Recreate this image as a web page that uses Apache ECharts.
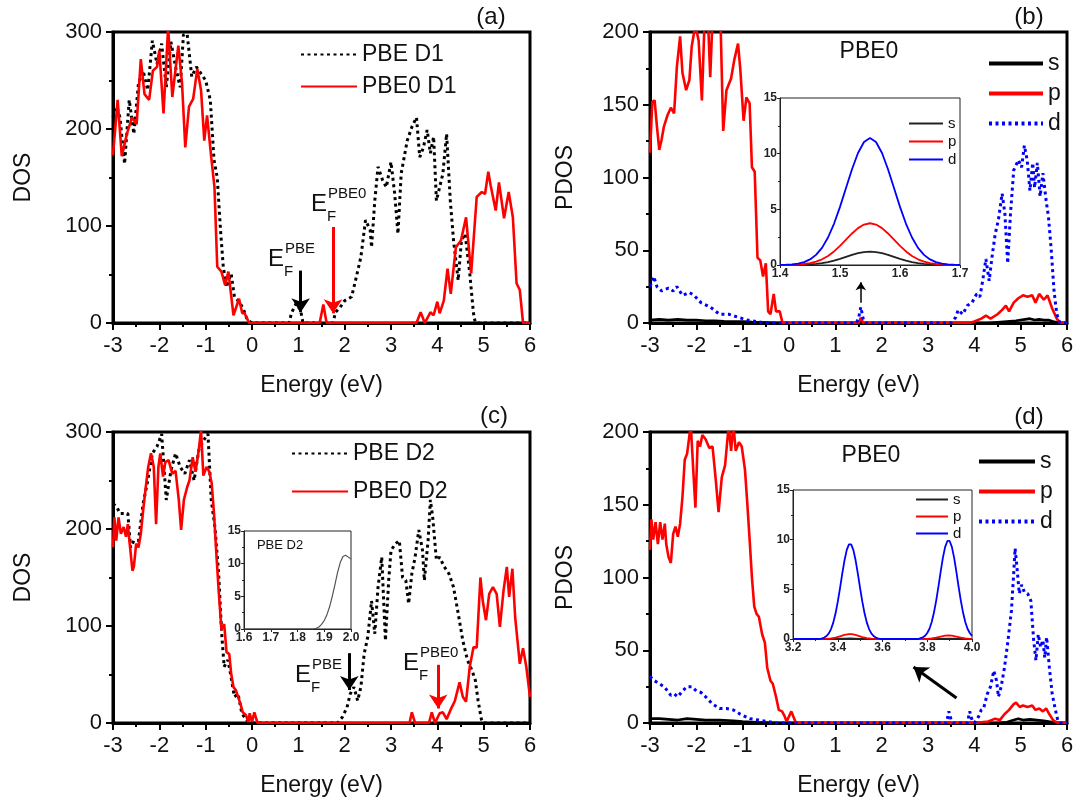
<!DOCTYPE html>
<html>
<head>
<meta charset="utf-8">
<script src="https://cdn.jsdelivr.net/npm/echarts@6/dist/echarts.min.js"></script>
<style>
html,body{margin:0;padding:0;background:#fff;}
#c{width:1081px;height:805px;}
</style>
</head>
<body>
<div id="c"></div>
<script>
// ---------------- DATA ----------------
// Panel (a): total DOS, D1
const aPBE = [[-3,212],[-2.92,223],[-2.85,212],[-2.75,164],[-2.65,230],[-2.55,195],[-2.45,247],[-2.35,260],[-2.25,240],[-2.15,291],[-2.05,267],[-1.95,288],[-1.85,243],[-1.75,290],[-1.65,264],[-1.55,243],[-1.48,297],[-1.4,298],[-1.3,254],[-1.2,264],[-1.1,257],[-1.0,250],[-0.9,230],[-0.82,168],[-0.75,150],[-0.68,96],[-0.62,58],[-0.55,37],[-0.45,51],[-0.38,27],[-0.3,23],[-0.2,16],[-0.1,3],[0,0],[0.8,0],[0.85,10],[0.95,20],[1.05,13],[1.1,0],[1.75,0],[1.8,11],[1.9,16],[2,23],[2.15,27],[2.25,47],[2.35,68],[2.45,106],[2.55,96],[2.58,78],[2.65,126],[2.72,161],[2.82,147],[2.9,140],[3,166],[3.08,133],[3.15,92],[3.22,154],[3.35,188],[3.45,202],[3.55,212],[3.62,171],[3.7,181],[3.78,199],[3.85,175],[3.92,192],[3.98,126],[4.05,140],[4.12,154],[4.2,195],[4.28,126],[4.35,85],[4.45,44],[4.52,85],[4.6,92],[4.7,51],[4.78,10],[4.82,0],[6,0]];
const aPBE0 = [[-3,173],[-2.9,230],[-2.81,172],[-2.7,195],[-2.59,212],[-2.49,205],[-2.4,272],[-2.32,236],[-2.22,230],[-2.14,260],[-2.05,264],[-2,281],[-1.91,216],[-1.81,305],[-1.72,233],[-1.59,286],[-1.51,247],[-1.44,181],[-1.36,223],[-1.27,231],[-1.18,262],[-1.1,240],[-1.03,188],[-0.97,214],[-0.88,171],[-0.81,140],[-0.75,58],[-0.66,53],[-0.58,39],[-0.51,53],[-0.4,8],[-0.28,25],[-0.21,10],[-0.16,10],[-0.06,0],[1.46,0],[1.54,19],[1.61,0],[3.55,0],[3.64,11],[3.73,0],[3.85,11],[3.92,8],[4.0,22],[4.05,10],[4.14,23],[4.22,56],[4.29,30],[4.4,78],[4.51,85],[4.62,109],[4.73,51],[4.85,130],[4.96,135],[5.03,133],[5.1,156],[5.15,142],[5.26,116],[5.33,145],[5.44,108],[5.54,135],[5.63,109],[5.71,41],[5.78,34],[5.85,0],[6,0]];

// Panel (b): PDOS, PBE0 D1
const bS = [[-3,2],[-2.8,2.5],[-2.6,2],[-2.4,2.5],[-2.2,2],[-2,2],[-1.8,1.5],[-1.6,1.5],[-1.4,1.2],[-1.2,1],[-1,1],[-0.8,0.6],[-0.6,0.4],[-0.4,0.2],[-0.2,0],[1.5,0],[1.55,1.2],[1.6,0],[4.3,0],[4.5,0.5],[4.7,1],[4.9,1.5],[5.0,2],[5.1,2.5],[5.2,3],[5.3,2],[5.4,2.5],[5.5,2],[5.6,2],[5.7,1],[5.8,0.3],[5.9,0],[6,0]];
const bP = [[-3,117],[-2.95,152],[-2.9,153],[-2.85,135],[-2.8,119],[-2.75,126],[-2.7,135],[-2.62,143],[-2.55,148],[-2.48,144],[-2.42,176],[-2.35,197],[-2.3,172],[-2.22,160],[-2.15,167],[-2.1,190],[-2.02,205],[-1.95,194],[-1.88,153],[-1.82,210],[-1.75,210],[-1.7,169],[-1.65,210],[-1.55,210],[-1.48,210],[-1.42,132],[-1.35,160],[-1.25,168],[-1.18,181],[-1.1,192],[-1.05,174],[-0.98,139],[-0.92,155],[-0.85,151],[-0.8,107],[-0.74,104],[-0.68,45],[-0.62,43],[-0.56,32],[-0.5,41],[-0.45,8],[-0.4,6],[-0.33,20],[-0.28,8],[-0.2,8],[-0.14,0],[1.5,0],[1.55,3.5],[1.6,0],[3.9,0],[4.0,1],[4.15,3],[4.25,5],[4.35,3],[4.5,6],[4.6,9],[4.68,12],[4.75,8],[4.85,14],[4.95,17],[5.05,19],[5.15,18],[5.25,19],[5.32,14],[5.4,20],[5.5,16],[5.58,19],[5.68,10],[5.78,3],[5.85,0],[6,0]];
const bD = [[-3,25],[-2.92,32],[-2.85,25],[-2.75,22],[-2.6,24],[-2.5,22],[-2.42,25],[-2.3,19],[-2.15,21],[-2.05,19],[-1.9,14],[-1.7,11],[-1.5,6],[-1.3,6],[-1.1,4],[-0.9,2],[-0.7,1],[-0.5,0],[1.45,0],[1.5,3],[1.55,11],[1.6,3],[1.65,0],[3.5,0],[3.6,4],[3.65,9],[3.75,6],[3.85,12],[3.95,14],[4.05,20],[4.12,18],[4.18,29],[4.25,44],[4.32,29],[4.38,45],[4.45,61],[4.52,71],[4.6,89],[4.66,75],[4.72,41],[4.78,75],[4.85,105],[4.95,112],[5.02,107],[5.08,122],[5.14,112],[5.2,91],[5.26,110],[5.3,93],[5.36,110],[5.42,87],[5.48,103],[5.55,84],[5.6,73],[5.66,50],[5.72,22],[5.78,6],[5.85,0],[6,0]];

// Panel (c): total DOS, D2
const cPBE = [[-3,226],[-2.92,223],[-2.85,216],[-2.75,216],[-2.68,216],[-2.62,181],[-2.55,188],[-2.45,188],[-2.35,226],[-2.25,250],[-2.15,278],[-2.05,285],[-1.95,298],[-1.85,230],[-1.75,260],[-1.65,278],[-1.55,264],[-1.45,257],[-1.35,271],[-1.25,250],[-1.15,281],[-1.05,291],[-0.95,298],[-0.88,230],[-0.8,202],[-0.72,154],[-0.65,89],[-0.6,58],[-0.52,65],[-0.45,47],[-0.38,27],[-0.3,30],[-0.22,10],[-0.12,3],[0,0],[1.85,0],[1.95,6],[2.05,16],[2.12,30],[2.2,37],[2.28,23],[2.35,37],[2.42,71],[2.5,89],[2.58,126],[2.65,92],[2.72,140],[2.8,171],[2.88,85],[2.95,147],[3,178],[3.1,185],[3.18,188],[3.25,150],[3.32,147],[3.38,123],[3.45,154],[3.52,171],[3.6,199],[3.68,178],[3.72,147],[3.8,188],[3.85,230],[3.9,212],[3.98,168],[4.05,171],[4.15,161],[4.25,154],[4.35,140],[4.45,113],[4.55,85],[4.65,65],[4.75,54],[4.82,44],[4.88,23],[4.95,4],[5,0],[6,0]];
const cPBE0 = [[-3,181],[-2.97,212],[-2.93,188],[-2.88,212],[-2.83,195],[-2.77,202],[-2.72,192],[-2.68,205],[-2.64,185],[-2.58,157],[-2.55,161],[-2.5,185],[-2.45,181],[-2.4,195],[-2.35,219],[-2.3,240],[-2.24,264],[-2.18,278],[-2.12,264],[-2.07,205],[-2.02,264],[-1.98,278],[-1.92,254],[-1.87,269],[-1.8,271],[-1.72,257],[-1.65,260],[-1.58,230],[-1.53,199],[-1.47,230],[-1.4,243],[-1.35,250],[-1.28,274],[-1.22,259],[-1.15,281],[-1.1,302],[-1.05,255],[-0.98,264],[-0.92,259],[-0.87,247],[-0.82,216],[-0.77,175],[-0.72,137],[-0.66,96],[-0.6,102],[-0.55,73],[-0.49,71],[-0.45,51],[-0.4,37],[-0.35,34],[-0.3,27],[-0.25,20],[-0.2,11],[-0.13,8],[-0.08,1],[-0.05,10],[0,1],[0.05,11],[0.12,0],[3.4,0],[3.45,11],[3.52,0],[3.82,0],[3.88,11],[3.95,0],[4.05,10],[4.12,11],[4.2,4],[4.28,13],[4.38,23],[4.48,42],[4.55,27],[4.62,22],[4.7,58],[4.78,78],[4.85,78],[4.93,150],[4.98,126],[5.05,106],[5.12,133],[5.2,140],[5.28,133],[5.35,99],[5.43,137],[5.5,161],[5.55,130],[5.62,159],[5.68,109],[5.73,85],[5.78,61],[5.85,77],[5.92,58],[6,27]];

// Panel (d): PDOS, PBE0 D2
const dS = [[-3,3],[-2.8,3],[-2.6,2.5],[-2.4,2],[-2.2,3],[-2,2.5],[-1.8,2],[-1.5,2],[-1.2,1.5],[-1,1],[-0.7,0.5],[-0.4,0.2],[-0.2,0],[4.5,0],[4.7,0.5],[4.85,2],[4.95,3],[5.05,2],[5.2,2.5],[5.35,2],[5.5,1.5],[5.7,0.5],[5.85,0],[6,0]];
const dP = [[-3,119],[-2.97,140],[-2.93,126],[-2.88,138],[-2.83,123],[-2.78,138],[-2.73,126],[-2.68,137],[-2.65,123],[-2.6,114],[-2.55,110],[-2.5,130],[-2.45,135],[-2.4,128],[-2.35,137],[-2.3,155],[-2.25,181],[-2.2,185],[-2.12,205],[-2.07,176],[-2.02,148],[-1.97,194],[-1.92,190],[-1.87,198],[-1.8,195],[-1.72,189],[-1.65,190],[-1.58,167],[-1.52,145],[-1.45,169],[-1.38,177],[-1.3,205],[-1.25,187],[-1.2,205],[-1.15,187],[-1.08,193],[-1.02,190],[-0.95,174],[-0.9,151],[-0.85,126],[-0.8,100],[-0.75,80],[-0.7,75],[-0.65,73],[-0.58,61],[-0.52,55],[-0.47,38],[-0.4,29],[-0.35,27],[-0.28,18],[-0.22,9],[-0.15,8],[-0.1,5],[-0.05,1],[0.05,8],[0.1,4],[0.15,0],[3.4,0],[3.45,0.5],[3.5,0],[4.0,0],[4.3,1],[4.45,3],[4.55,2],[4.65,6],[4.75,9],[4.85,13],[4.9,14],[4.98,11],[5.05,12],[5.15,11],[5.25,12],[5.32,9],[5.4,10],[5.48,8],[5.55,10],[5.62,6],[5.7,2],[5.8,0],[6,0]];
const dD = [[-3,32],[-2.9,29],[-2.8,27],[-2.7,25],[-2.62,22],[-2.55,19],[-2.48,20],[-2.4,18],[-2.3,22],[-2.2,25],[-2.1,25],[-2,22],[-1.9,21],[-1.8,18],[-1.65,13],[-1.5,10],[-1.35,10],[-1.2,9],[-1.05,6],[-0.85,3],[-0.65,2],[-0.45,1],[-0.3,0],[3.4,0],[3.45,8],[3.5,2],[3.55,0],[3.85,0],[3.9,8],[3.95,2],[4.0,0],[4.05,2],[4.1,5],[4.15,9],[4.2,10],[4.28,20],[4.35,25],[4.42,36],[4.48,29],[4.52,18],[4.58,25],[4.65,38],[4.72,55],[4.8,77],[4.85,103],[4.88,120],[4.92,107],[4.97,89],[5.02,95],[5.08,90],[5.15,89],[5.22,84],[5.28,57],[5.33,43],[5.38,61],[5.43,52],[5.48,57],[5.52,45],[5.56,59],[5.62,38],[5.68,20],[5.75,9],[5.8,2],[5.85,0],[6,0]];

// Inset in (b): 1.40 .. 1.70 eV, step 0.01
const insBx = [1.40,1.41,1.42,1.43,1.44,1.45,1.46,1.47,1.48,1.49,1.50,1.51,1.52,1.53,1.54,1.55,1.56,1.57,1.58,1.59,1.60,1.61,1.62,1.63,1.64,1.65,1.66,1.67,1.68,1.69,1.70];
const insBs = [0,0,0.01,0.01,0.03,0.05,0.10,0.16,0.26,0.39,0.55,0.73,0.91,1.06,1.16,1.20,1.16,1.06,0.91,0.73,0.55,0.39,0.26,0.16,0.10,0.05,0.03,0.01,0.01,0,0];
const insBp = [0,0.01,0.02,0.04,0.09,0.17,0.30,0.51,0.81,1.22,1.72,2.28,2.83,3.31,3.63,3.75,3.63,3.31,2.83,2.28,1.72,1.22,0.81,0.51,0.30,0.17,0.09,0.04,0.02,0.01,0];
const insBd = [0.01,0.03,0.06,0.13,0.26,0.50,0.91,1.54,2.47,3.70,5.22,6.91,8.60,10.06,11.05,11.40,11.05,10.06,8.60,6.91,5.22,3.70,2.47,1.54,0.91,0.50,0.26,0.13,0.06,0.03,0.01];

// Inset in (c): PBE D2, 1.6 .. 2.0 eV
const insC = [[1.6,0],[1.86,0],[1.87,0.1],[1.88,0.3],[1.89,0.7],[1.9,1.3],[1.91,2.2],[1.92,3.4],[1.93,5.0],[1.94,6.8],[1.95,8.7],[1.96,10.2],[1.97,11.1],[1.98,11.3],[1.99,11.0],[2.0,10.7]];

// Inset in (d): 3.2 .. 4.0 eV
const insDs = [[3.2,0],[3.4,0.02],[3.455,0.05],[3.5,0.02],[3.55,0],[3.85,0],[3.895,0.04],[3.95,0],[4.0,0]];
const insDp = [[3.2,0],[3.35,0.02],[3.37,0.05],[3.39,0.13],[3.41,0.27],[3.43,0.41],[3.45,0.49],[3.46,0.5],[3.47,0.47],[3.49,0.34],[3.51,0.19],[3.53,0.09],[3.55,0.03],[3.58,0],[3.8,0],[3.82,0.05],[3.84,0.14],[3.86,0.25],[3.88,0.33],[3.895,0.35],[3.91,0.33],[3.93,0.25],[3.95,0.14],[3.97,0.06],[3.99,0.02],[4.0,0.01]];
const insDd = [[3.2,0],[3.32,0],[3.33,0.07],[3.34,0.15],[3.35,0.30],[3.36,0.57],[3.37,1.00],[3.38,1.65],[3.39,2.56],[3.40,3.73],[3.41,5.10],[3.42,6.55],[3.43,7.90],[3.44,8.95],[3.45,9.52],[3.46,9.52],[3.47,8.95],[3.48,7.90],[3.49,6.55],[3.50,5.10],[3.51,3.73],[3.52,2.56],[3.53,1.65],[3.54,1.00],[3.55,0.57],[3.56,0.30],[3.57,0.15],[3.58,0.07],[3.59,0],[3.76,0],[3.77,0.08],[3.78,0.16],[3.79,0.32],[3.80,0.60],[3.81,1.03],[3.82,1.71],[3.83,2.66],[3.84,3.87],[3.85,5.28],[3.86,6.79],[3.87,8.19],[3.88,9.27],[3.89,9.87],[3.90,9.87],[3.91,9.27],[3.92,8.19],[3.93,6.79],[3.94,5.28],[3.95,3.87],[3.96,2.66],[3.97,1.71],[3.98,1.03],[3.99,0.60],[4.00,0.32]];

// Fermi-level arrows [x, yStart, yEnd]
const arrowA_PBE = [1.05, 54, 11];
const arrowA_PBE0 = [1.75, 99, 10];
const arrowC_PBE = [2.10, 72, 34];
const arrowC_PBE0 = [4.02, 60, 15];
const arrowB = [[1.55, 14], [1.55, 28]];
const arrowD = [[3.615, 17.2], [2.687, 38.5]];

// ---------------- CHART ----------------
const FONT = "'Liberation Sans', Arial, sans-serif";
const TXT = '#111';
const RED = '#ff0000', BLUE = '#0000ff', BLACK = '#000000';
const chart = echarts.init(document.getElementById('c'), null, {renderer: 'canvas'});

const mainGrids = [
  {left: 113, top: 32, width: 417, height: 291},
  {left: 650, top: 32, width: 417, height: 291},
  {left: 113, top: 432, width: 417, height: 291},
  {left: 650, top: 432, width: 417, height: 291}
];
const insetGrids = [
  {left: 780, top: 98, width: 180, height: 167},
  {left: 244, top: 531, width: 107, height: 98},
  {left: 793, top: 490, width: 179, height: 149}
];
const grids = mainGrids.map(g => Object.assign({show: true, borderColor: '#000', borderWidth: 3, backgroundColor: 'transparent', containLabel: false}, g))
  .concat(insetGrids.map(g => Object.assign({show: true, borderColor: '#222', borderWidth: 1, backgroundColor: '#fff', containLabel: false, z: 5}, g)));

function mainX(gi) {
  return {
    gridIndex: gi, type: 'value', min: -3, max: 6, interval: 1,
    axisLine: {show: true, onZero: false, lineStyle: {color: '#000', width: 3}},
    axisTick: {show: true, inside: false, length: 7, lineStyle: {color: '#000', width: 2}},
    minorTick: {show: true, splitNumber: 2, length: 4, lineStyle: {color: '#000', width: 2}},
    splitLine: {show: false}, minorSplitLine: {show: false},
    axisLabel: {fontSize: 22, color: TXT, margin: 12, fontFamily: FONT},
    name: 'Energy (eV)', nameLocation: 'middle', nameGap: 51,
    nameTextStyle: {fontSize: 23, color: TXT, fontFamily: FONT}
  };
}
function mainY(gi, max, interval, name, gap) {
  return {
    gridIndex: gi, type: 'value', min: 0, max: max, interval: interval,
    axisLine: {show: true, onZero: false, lineStyle: {color: '#000', width: 3}},
    axisTick: {show: true, inside: false, length: 7, lineStyle: {color: '#000', width: 2}},
    minorTick: {show: true, splitNumber: 2, length: 4, lineStyle: {color: '#000', width: 2}},
    splitLine: {show: false}, minorSplitLine: {show: false},
    axisLabel: {fontSize: 22, color: TXT, margin: 11, fontFamily: FONT},
    name: name, nameLocation: 'middle', nameGap: gap,
    nameTextStyle: {fontSize: 23, color: TXT, fontFamily: FONT}
  };
}
function insetX(gi, min, max, interval, minor) {
  return {
    gridIndex: gi, type: 'value', min: min, max: max, interval: interval, z: 6,
    axisLine: {show: true, onZero: false, lineStyle: {color: '#222', width: 1}},
    axisTick: {show: true, inside: false, length: 3, lineStyle: {color: '#222', width: 1}},
    minorTick: {show: minor, splitNumber: 2, length: 2, lineStyle: {color: '#222', width: 1}},
    splitLine: {show: false},
    axisLabel: {fontSize: 12, fontWeight: 'bold', color: '#222', margin: 3, fontFamily: FONT,
      formatter: v => v.toFixed(1)}
  };
}
function insetY(gi) {
  return {
    gridIndex: gi, type: 'value', min: 0, max: 15, interval: 5, z: 6,
    axisLine: {show: true, onZero: false, lineStyle: {color: '#222', width: 1}},
    axisTick: {show: true, inside: false, length: 3, lineStyle: {color: '#222', width: 1}},
    minorTick: {show: true, splitNumber: 2, length: 2, lineStyle: {color: '#222', width: 1}},
    splitLine: {show: false},
    axisLabel: {fontSize: 12, fontWeight: 'bold', color: '#222', margin: 3, fontFamily: FONT}
  };
}

const dotted = [3, 3.5];
function line(name, data, xi, color, width, type, extra) {
  return Object.assign({
    type: 'line', name: name, data: data, xAxisIndex: xi, yAxisIndex: xi,
    symbol: 'none', showSymbol: false, smooth: false, clip: true,
    color: color, lineStyle: {color: color, width: width, type: type || 'solid'},
    emphasis: {disabled: true}, z: xi >= 4 ? 10 : 2
  }, extra || {});
}
function arrowMark(p1, p2, color, width, size) {
  return {
    markLine: {
      silent: true, animation: false, symbol: ['none', 'arrow'], symbolSize: size,
      label: {show: false}, emphasis: {disabled: true},
      lineStyle: {color: color, width: width, type: 'solid'},
      data: [[{coord: p1}, {coord: p2}]]
    }
  };
}
const vArrow = (a, color) => arrowMark([a[0], a[1]], [a[0], a[2]], color, 3, 14);

const zip = (xs, ys) => xs.map((x, i) => [x, ys[i]]);

const series = [
  line('PBE D1', aPBE, 0, BLACK, 3, dotted, vArrow(arrowA_PBE, BLACK)),
  line('PBE0 D1', aPBE0, 0, RED, 2.6, 'solid', vArrow(arrowA_PBE0, RED)),
  line('s', bS, 1, BLACK, 2.6),
  line('p', bP, 1, RED, 2.6),
  line('d', bD, 1, BLUE, 3, dotted, arrowMark(arrowB[0], arrowB[1], BLACK, 1.5, 8)),
  line('PBE D2', cPBE, 2, BLACK, 3, dotted, vArrow(arrowC_PBE, BLACK)),
  line('PBE0 D2', cPBE0, 2, RED, 2.6, 'solid', vArrow(arrowC_PBE0, RED)),
  line('s', dS, 3, BLACK, 2.6),
  line('p', dP, 3, RED, 2.6),
  line('d', dD, 3, BLUE, 3, dotted, arrowMark(arrowD[0], arrowD[1], BLACK, 3, 14)),
  line('si', zip(insBx, insBs), 4, '#222', 1.8),
  line('pi', zip(insBx, insBp), 4, RED, 1.8),
  line('di', zip(insBx, insBd), 4, BLUE, 1.8),
  line('ci', insC, 5, '#555', 1.2),
  line('si', insDs, 6, '#222', 1.8),
  line('pi', insDp, 6, RED, 1.8),
  line('di', insDd, 6, BLUE, 1.8)
];

function legend(names, left, top, w, h, gap, fs, lw, fmt) {
  const l = {
    data: names, orient: 'vertical', left: left, top: top, itemWidth: w, itemHeight: h, itemGap: gap,
    selectedMode: false, padding: 0, z: 30,
    itemStyle: {opacity: 0},
    textStyle: {fontSize: fs, color: TXT, fontFamily: FONT}
  };
  if (lw) l.lineStyle = {width: lw};
  if (fmt) l.formatter = fmt;
  return l;
}

const gText = (text, x, y, fs, align, color) => ({
  type: 'text', x: x, y: y, z: 100,
  style: {text: text, fontSize: fs, fontFamily: FONT, fill: color || TXT, align: align || 'left', verticalAlign: 'middle'}
});
// E_F label: E with sub F and super text
function efLabel(sup, ex, ey, color) {
  return [
    gText('E', ex, ey, 24, 'left', color),
    gText('F', ex + 16, ey + 13, 15, 'left', color),
    gText(sup, ex + 17, ey - 10, 15, 'left', color)
  ];
}

const graphics = [
  gText('(a)', 491, 17, 24, 'center'),
  gText('(b)', 1029, 17, 24, 'center'),
  gText('(c)', 494, 416, 24, 'center'),
  gText('(d)', 1029, 417, 24, 'center'),
  gText('PBE0', 869, 52, 23, 'center'),
  gText('PBE0', 871, 456, 23, 'center'),
  gText('PBE D2', 280, 545, 13, 'center')
].concat(efLabel('PBE', 268, 259, TXT))
 .concat(efLabel('PBE0', 311, 204, TXT))
 .concat(efLabel('PBE', 295, 675, TXT))
 .concat(efLabel('PBE0', 403, 663, TXT));

chart.setOption({
  animation: false,
  backgroundColor: '#fff',
  textStyle: {fontFamily: FONT},
  grid: grids,
  xAxis: [mainX(0), mainX(1), mainX(2), mainX(3),
          insetX(4, 1.4, 1.7, 0.1, false), insetX(5, 1.6, 2.0, 0.1, false), insetX(6, 3.2, 4.0, 0.2, true)],
  yAxis: [mainY(0, 300, 100, 'DOS', 78), mainY(1, 200, 50, 'PDOS', 73), mainY(2, 300, 100, 'DOS', 78), mainY(3, 200, 50, 'PDOS', 73),
          insetY(4), insetY(5), insetY(6)],
  legend: [
    legend(['PBE D1', 'PBE0 D1'], 300, 43, 56, 14, 9, 23),
    legend(['PBE D2', 'PBE0 D2'], 291, 442, 56, 14, 15, 23),
    legend(['s', 'p', 'd'], 987, 52, 54, 14, 7, 23, 4),
    legend(['s', 'p', 'd'], 977, 450, 56, 14, 7, 23, 4),
    legend(['si', 'pi', 'di'], 908, 116, 34, 8, 3, 15, 0, n => n.charAt(0)),
    legend(['si', 'pi', 'di'], 915, 492, 32, 8, 2, 15, 0, n => n.charAt(0))
  ],
  graphic: graphics,
  series: series
});
</script>
</body>
</html>
